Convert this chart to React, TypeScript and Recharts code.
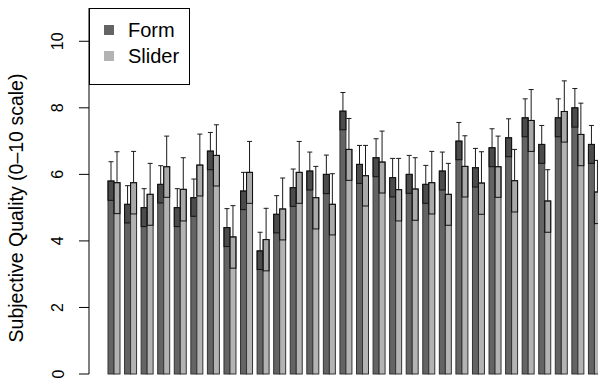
import { Bar, BarChart, Legend, XAxis, YAxis } from "recharts";

// one entry per rated item (not labelled on the axis)
const items = [
  "1", "2", "3", "4", "5", "6", "7", "8", "9", "10",
  "11", "12", "13", "14", "15", "16", "17", "18", "19", "20",
  "21", "22", "23", "24", "25", "26", "27", "28", "29", "30",
];

const formMeans = [
  5.8, 5.1, 5.0, 5.7, 5.0, 5.3, 6.7, 4.4, 5.5, 3.7,
  4.8, 5.6, 6.1, 6.0, 7.9, 6.3, 6.5, 5.9, 6.0, 5.7,
  6.1, 7.0, 6.2, 6.8, 7.1, 7.7, 6.9, 7.7, 8.0, 6.9,
];
const formErr = [
  0.58, 0.56, 0.57, 0.56, 0.57, 0.56, 0.56, 0.57, 0.56, 0.56,
  0.56, 0.56, 0.57, 0.58, 0.56, 0.57, 0.57, 0.58, 0.57, 0.57,
  0.57, 0.56, 0.58, 0.57, 0.57, 0.57, 0.57, 0.57, 0.58, 0.57,
];

const sliderMeans = [
  5.75, 5.75, 5.4, 6.23, 5.55, 6.28, 6.57, 4.12, 6.06, 4.04,
  4.96, 6.06, 5.3, 5.1, 6.75, 5.96, 6.37, 5.54, 5.56, 5.75,
  5.4, 6.24, 5.74, 6.23, 5.81, 7.62, 5.2, 7.89, 7.2, 5.47,
];
const sliderErr = [
  0.93, 0.94, 0.93, 0.92, 0.95, 0.93, 0.92, 0.94, 0.93, 0.94,
  0.93, 0.93, 0.94, 0.92, 0.93, 0.91, 0.93, 0.94, 0.94, 0.94,
  0.93, 0.92, 0.94, 0.92, 0.94, 0.93, 0.94, 0.92, 0.94, 0.95,
];

const yTicks = [0, 2, 4, 6, 8, 10];

const FORM_FILL = "#646464";
const SLIDER_FILL = "#b3b3b3";
const FONT = "'Liberation Sans', Arial, Helvetica, sans-serif";

const data = items.map((name, i) => ({
  name,
  form: formMeans[i],
  formErr: formErr[i],
  slider: sliderMeans[i],
  sliderErr: sliderErr[i],
}));

// bar + mean/SE box + upper whisker, sized from the bar's own geometry
function makeShape(valueKey: string, errKey: string, boxFill: string) {
  return function BarWithErr(props: any) {
    const { x, y, width, height, fill, payload } = props;
    const v = payload[valueKey];
    const k = v ? height / v : 0;
    const e = payload[errKey] * k;
    const cx = x + width / 2;
    return (
      <g>
        <rect x={x} y={y} width={width} height={height} fill={fill} stroke="#333" strokeWidth={1} />
        <rect x={x} y={y} width={width} height={e} fill={boxFill} stroke="#111" strokeWidth={1} />
        <line x1={cx} y1={y} x2={cx} y2={y - e} stroke="#1a1a1a" strokeWidth={1} />
        <line x1={cx - 2.5} y1={y - e} x2={cx + 2.5} y2={y - e} stroke="#1a1a1a" strokeWidth={1} />
      </g>
    );
  };
}

const FormShape = makeShape("form", "formErr", "rgba(0,0,0,0.25)");
const SliderShape = makeShape("slider", "sliderErr", "rgba(0,0,0,0.05)");

function YTick({ x, y, payload }: any) {
  const tx = x - 13.5;
  return (
    <text
      x={tx}
      y={y}
      transform={`rotate(-90, ${tx}, ${y})`}
      textAnchor="middle"
      fontSize={16}
      fontFamily={FONT}
      fill="#000"
    >
      {payload.value}
    </text>
  );
}

function YTitle() {
  return (
    <text
      x={22.5}
      y={208}
      transform="rotate(-90, 22.5, 208)"
      textAnchor="middle"
      fontSize={19.5}
      fontFamily={FONT}
      fill="#000"
    >
      Subjective Quality (0–10 scale)
    </text>
  );
}

function LegendBox() {
  const row = (color: string, label: string, top: number) => (
    <div style={{ position: "absolute", left: 14, top, height: 24, display: "flex", alignItems: "center" }}>
      <div style={{ width: 10, height: 10, background: color }} />
      <span style={{ marginLeft: 14, fontSize: 20, fontFamily: FONT, color: "#000", lineHeight: "24px" }}>{label}</span>
    </div>
  );
  return (
    <div
      style={{
        position: "relative",
        width: 101,
        height: 77,
        boxSizing: "border-box",
        border: "1px solid #000",
        background: "#fff",
      }}
    >
      {row(FORM_FILL, "Form", 9)}
      {row(SLIDER_FILL, "Slider", 35)}
    </div>
  );
}

export default function App() {
  return (
    <div
      style={{
        position: "absolute",
        left: 0,
        top: 0,
        width: 598,
        height: 380,
        overflow: "hidden",
        background: "#fff",
      }}
    >
      <BarChart
        width={603}
        height={380}
        data={data}
        margin={{ top: 8, right: 0, bottom: 6, left: 0 }}
        barSize={6}
        barGap={0}
      >
        <XAxis dataKey="name" hide padding={{ left: 17, right: 0 }} />
        <YAxis
          width={89}
          domain={[0, 11]}
          ticks={yTicks}
          interval={0}
          tickSize={10}
          tick={<YTick />}
          tickLine={{ stroke: "#000" }}
          axisLine={{ stroke: "#000" }}
          label={<YTitle />}
        />
        <Legend
          layout="vertical"
          align="center"
          verticalAlign="middle"
          content={<LegendBox />}
          wrapperStyle={{ left: 89, top: 8, width: 101, height: 77 }}
        />
        <Bar dataKey="form" fill={FORM_FILL} shape={FormShape} isAnimationActive={false} />
        <Bar dataKey="slider" fill={SLIDER_FILL} shape={SliderShape} isAnimationActive={false} />
      </BarChart>
    </div>
  );
}
